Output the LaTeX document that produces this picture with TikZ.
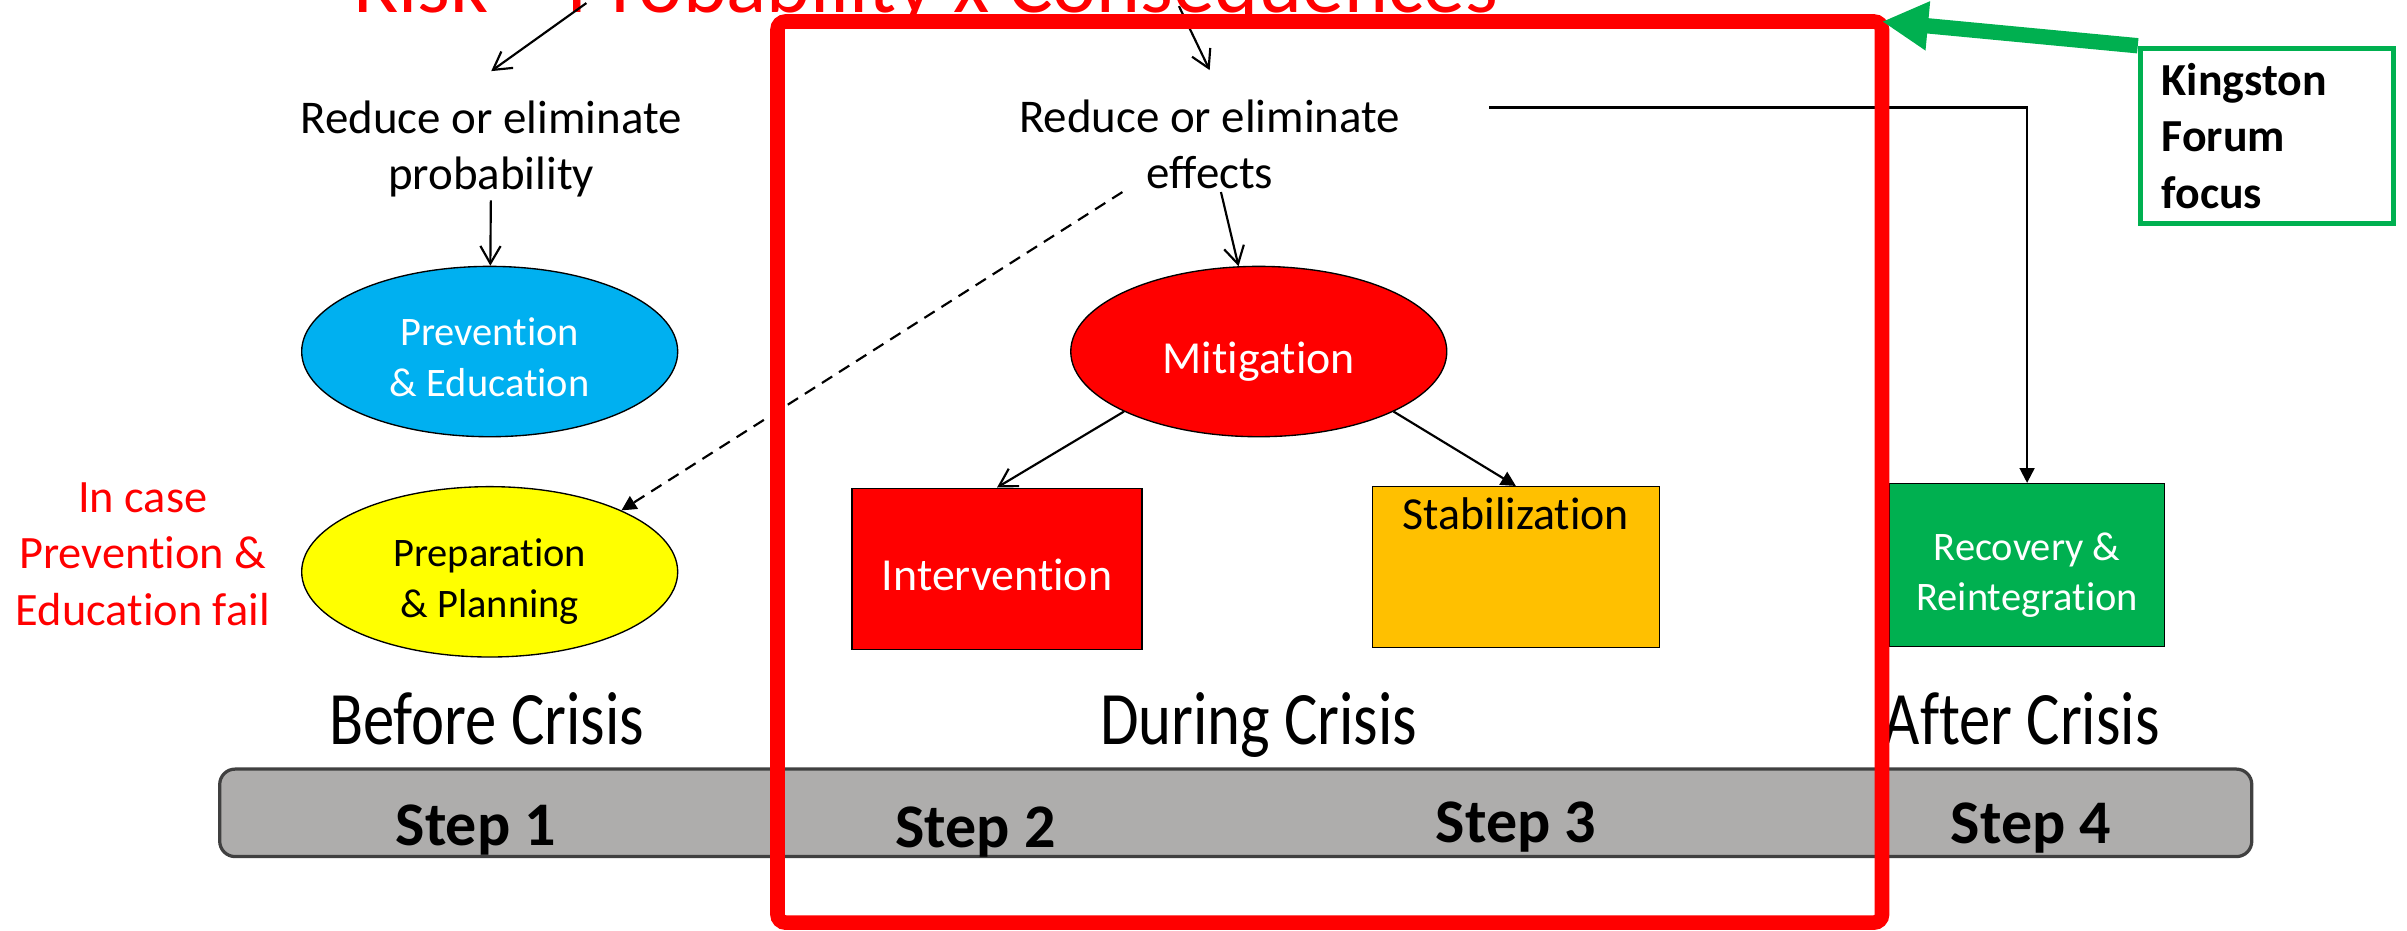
\documentclass[tikz,border=0pt]{standalone}
\usepackage{fontspec}
\setmainfont{Carlito}[Ligatures={TeX,NoCommon}]
\newfontfamily\crisisfont{Carlito}[FakeStretch=0.83, Ligatures=NoCommon]
\usetikzlibrary{shapes.geometric,arrows.meta,calc}

\definecolor{riskred}{RGB}{255,0,0}
\definecolor{prevblue}{RGB}{0,176,240}
\definecolor{prepyellow}{RGB}{255,255,0}
\definecolor{stabamber}{RGB}{255,192,0}
\definecolor{recovgreen}{RGB}{0,176,80}
\definecolor{bargray}{RGB}{174,173,172}

\tikzset{phase/.style={ellipse, draw=black, line width=0.5pt, minimum width=4.9cm, minimum height=2.22cm, inner sep=0pt, align=center, font=\fontsize{15}{18.8}\selectfont},
stagebox/.style={rectangle, draw=black, line width=0.5pt, inner sep=0pt, align=center, font=\fontsize{17}{21}\selectfont},
aim/.style={align=center, inner sep=1pt, font=\fontsize{17.4}{20.8}\selectfont},
%open tips for plain links, filled ones for the others
openarr/.style={-{Straight Barb[length=6.5pt,width=7.5pt]}, line width=0.8pt},
solidarr/.style={-{Triangle[length=5.5pt,width=5.5pt]}, line width=0.8pt},
crisislbl/.style={anchor=base, font=\crisisfont\fontsize{28}{32}\selectfont},
steplbl/.style={anchor=base, font=\bfseries\fontsize{23}{26}\selectfont}}

\begin{document}
\begin{tikzpicture}[x=0.02cm, y=-0.02cm]

    \useasboundingbox (0,0) rectangle (1568,606);
    \clip (0,0) rectangle (1568,606);

    \node[anchor=base, text=riskred, font=\fontsize{31}{37}\selectfont] (risk) at (603,8.3) {Risk = Probability x Consequences};
    \coordinate (risk-p) at (382,2);
    \coordinate (risk-c) at (768,4);

    \node[aim] (lessprob) at (320,97) {Reduce or eliminate\\probability};
    \node[aim] (lesseff) at (788,94) {Reduce or eliminate\\effects};

    \node[phase, fill=prevblue, text=white, text height=33pt, text depth=0pt] (prevent) at (319,229) {Prevention\\\& Education};
    \node[phase, fill=prepyellow, text height=33.6pt, text depth=0pt] (prepare) at (319,372.5) {Preparation\\\& Planning};
    \node[phase, fill=riskred, text=white, font=\fontsize{17}{21}\selectfont, text height=16pt, text depth=0pt] (mitig) at (820,229) {Mitigation};

    \node[align=center, text=riskred, font=\fontsize{17.2}{21}\selectfont] (incase) at (93,361) {In case\\Prevention \&\\Education fail};

    \node[stagebox, fill=riskred, text=white, minimum width=3.78cm, minimum height=2.1cm, text height=15.8pt, text depth=0pt] (interv) at (649.5,370.5) {Intervention};
    \node[stagebox, fill=stabamber, minimum width=3.74cm, minimum height=2.1cm, text height=0pt, text depth=27.9pt] (stab) at (987.5,369.5) {Stabilization};
    \node[stagebox, fill=recovgreen, text=white, minimum width=3.58cm, minimum height=2.12cm, font=\fontsize{15}{18.6}\selectfont,
          text height=33.6pt, text depth=0pt] (recov) at (1320.5,368) {Recovery \&\\Reintegration};

    \foreach \x/\w in {317/Before, 820/During, 1317/After}
    \node[crisislbl] (\w) at (\x,485) {\w{} Crisis};

    \node[draw=black!75, line width=1.2pt, fill=bargray, rounded corners=0.2cm, minimum width=26.48cm, minimum height=1.14cm, inner sep=0pt] (steps) at (805,529.5) {};
    \foreach \x/\y/\n in {310/550.5/1, 635.5/552/2, 987.5/549/3, 1323/549.4/4}
    \node[steplbl] (step\n) at (\x,\y) {Step \n};

    \draw[openarr] (risk-p) -- ([yshift=9.8pt]lessprob.north);
    \draw[openarr] (risk-c) -- ([yshift=9.8pt]lesseff.north);
    \draw[openarr] (lessprob) -- (prevent);
    \draw[openarr] (lesseff) -- (mitig);
    \draw[solidarr, dash pattern=on 4.5pt off 3pt] ($(lesseff.south)!0.45!(lesseff.south west)$) -- (prepare.25);
    \draw[openarr] (mitig.204) -- (interv.north);
    \draw[solidarr] (mitig.336) -- (stab.north);

    \coordinate (eff-out) at (970,70);
    \draw[solidarr] (eff-out) -| (recov.north);

    % the focus frame
    \coordinate (frame-nw) at (506.5,14);
    \coordinate (frame-ne) at (1226,14);
    \coordinate (frame-se) at (1226,601);
    \draw[riskred, line width=0.19cm, rounded corners=3pt] (frame-nw) rectangle (frame-se);

    \node[draw=recovgreen, line width=1.8pt, fill=white, anchor=north west, minimum width=3.3cm, minimum height=2.29cm,
          text width=2.74cm, inner xsep=0.28cm, align=left, font=\bfseries\fontsize{17}{21}\selectfont] (kingston) at (1392.6,29.8) {Kingston\\Forum\\focus};
    \draw[recovgreen, line width=0.2cm, -{Triangle[length=0.6cm,width=0.6cm]}] (kingston.north west) -- (frame-ne);

\end{tikzpicture}
\end{document}
